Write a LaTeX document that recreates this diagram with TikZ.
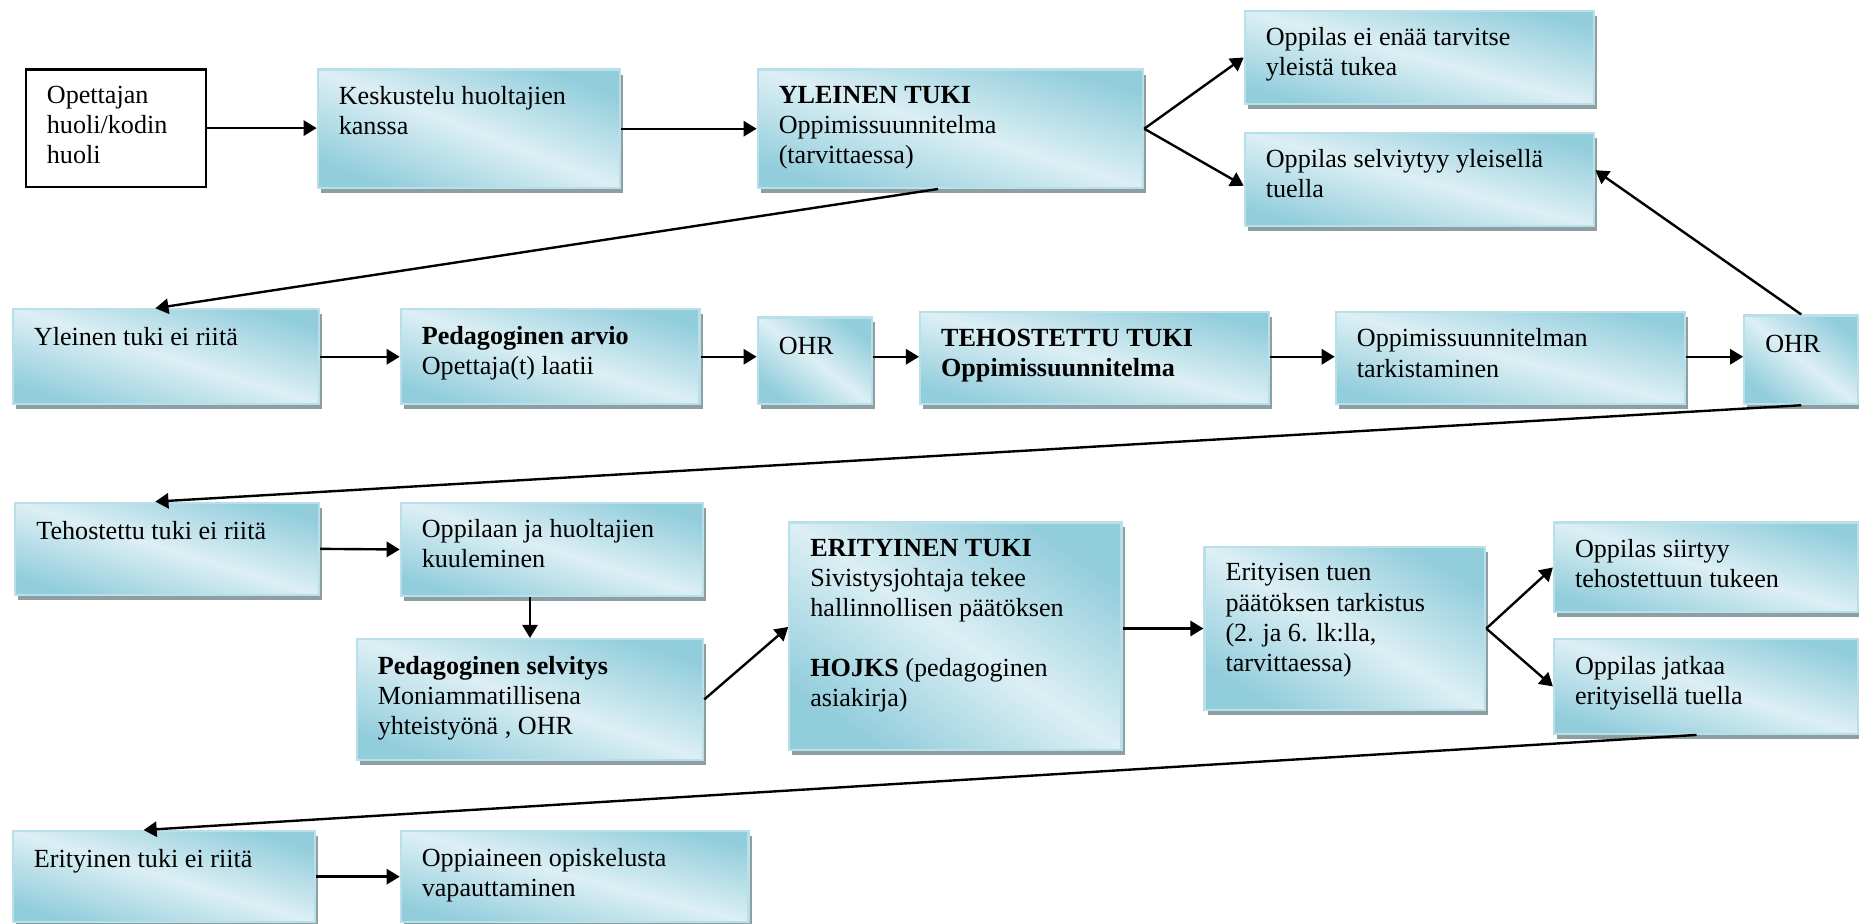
\documentclass[tikz,border=0pt]{standalone}
\usepackage{fontspec}
\setmainfont{Liberation Serif}
\usetikzlibrary{arrows.meta}
\usetikzlibrary{shadows}

\definecolor{teallight}{HTML}{DCEFF4}
\definecolor{tealdark}{HTML}{92CDDC}
\definecolor{boxedge}{HTML}{B9DFE9}
\definecolor{shadowgray}{HTML}{8E9FA4}

\tikzset{
	% size of the box; the angle of its shading follows the diagonal of the box
	laatikko/.style 2 args={rectangle, anchor=north west, minimum width=#1cm, minimum height=#2cm, inner sep=0pt,
		/utils/exec={\pgfmathsetmacro\kulma{-atan(#2/#1)}}},
	sininen/.style={draw=boxedge, line width=1pt, top color=tealdark, bottom color=tealdark, middle color=teallight, shading angle=\kulma,
		drop shadow={shadow xshift=0.05cm, shadow yshift=-0.08cm, fill=shadowgray, opacity=1}},
	valkoinen/.style={draw=black, line width=1pt, fill=white},
	% first line gets a fixed height, so every first baseline sits at the same depth
	teksti/.style={anchor=north west, inner sep=0pt, xshift=0.35cm, yshift=-8.1pt, align=left,
		font=\fontsize{12}{13.8}\selectfont, execute at begin node={\rule{0pt}{9pt}}},
	nuoli/.style={-{Triangle[length=6pt,width=7pt]}, line width=1.1pt},
}

\begin{document}
\begin{tikzpicture}
	% Fix the page size
	\useasboundingbox (0,0) rectangle (30,14.905);

	% First row: general support
	\node[laatikko={2.91}{1.89}, valkoinen] (huoli) at (0.40,13.80) {};
	\node[laatikko={4.88}{1.91}, sininen] (keskustelu) at (5.11,13.80) {};
	\node[laatikko={6.22}{1.91}, sininen] (yleinen) at (12.21,13.80) {};
	\node[laatikko={5.64}{1.51}, sininen] (eitarvitse) at (20.07,14.75) {};
	\node[laatikko={5.64}{1.51}, sininen] (selviytyy) at (20.07,12.78) {};

	% Second row: intensified support
	\node[laatikko={4.94}{1.53}, sininen] (yleinenei) at (0.19,9.93) {};
	\node[laatikko={4.82}{1.53}, sininen] (arvio) at (6.45,9.93) {};
	\node[laatikko={1.84}{1.40}, sininen] (ohra) at (12.21,9.80) {};
	\node[laatikko={5.63}{1.49}, sininen] (tehostettu) at (14.83,9.89) {};
	\node[laatikko={5.63}{1.49}, sininen] (tarkistaminen) at (21.54,9.89) {};
	\node[laatikko={1.84}{1.43}, sininen] (ohrb) at (28.13,9.83) {};

	% Third row: special support
	\node[laatikko={4.90}{1.49}, sininen] (tehostettuei) at (0.23,6.81) {};
	\node[laatikko={4.88}{1.51}, sininen] (kuuleminen) at (6.45,6.81) {};
	\node[laatikko={5.59}{1.95}, sininen] (selvitys) at (5.74,4.61) {};
	\node[laatikko={5.36}{3.67}, sininen] (erityinen) at (12.72,6.49) {};
	\node[laatikko={4.53}{2.64}, sininen] (paatos) at (19.42,6.10) {};
	\node[laatikko={4.90}{1.45}, sininen] (siirtyy) at (25.06,6.49) {};
	\node[laatikko={4.90}{1.53}, sininen] (jatkaa) at (25.06,4.61) {};

	% Fourth row
	\node[laatikko={4.88}{1.47}, sininen] (erityinenei) at (0.19,1.51) {};
	\node[laatikko={5.61}{1.47}, sininen] (vapautus) at (6.45,1.51) {};

	% Texts in the top left corner of each box
	\node[teksti] (huoli-t) at (huoli.north west) {Opettajan\\huoli/kodin\\huoli};
	\node[teksti] (keskustelu-t) at (keskustelu.north west) {Keskustelu huoltajien\\kanssa};
	\node[teksti] (yleinen-t) at (yleinen.north west) {\textbf{YLEINEN TUKI}\\Oppimissuunnitelma\\(tarvittaessa)};
	\node[teksti] (eitarvitse-t) at (eitarvitse.north west) {Oppilas ei enää tarvitse\\yleistä tukea};
	\node[teksti] (selviytyy-t) at (selviytyy.north west) {Oppilas selviytyy yleisellä\\tuella};
	\node[teksti] (yleinenei-t) at (yleinenei.north west) {Yleinen tuki ei riitä};
	\node[teksti] (arvio-t) at (arvio.north west) {\textbf{Pedagoginen arvio}\\Opettaja(t) laatii};
	\node[teksti] (ohra-t) at (ohra.north west) {OHR};
	\node[teksti] (tehostettu-t) at (tehostettu.north west) {\textbf{TEHOSTETTU TUKI}\\\textbf{Oppimissuunnitelma}};
	\node[teksti] (tarkistaminen-t) at (tarkistaminen.north west) {Oppimissuunnitelman\\tarkistaminen};
	\node[teksti] (ohrb-t) at (ohrb.north west) {OHR};
	\node[teksti] (tehostettuei-t) at (tehostettuei.north west) {Tehostettu tuki ei riitä};
	\node[teksti] (kuuleminen-t) at (kuuleminen.north west) {Oppilaan ja huoltajien\\kuuleminen};
	\node[teksti] (selvitys-t) at (selvitys.north west) {\textbf{Pedagoginen selvitys}\\Moniammatillisena\\yhteistyönä , OHR};
	\node[teksti] (erityinen-t) at (erityinen.north west) {\textbf{ERITYINEN TUKI}\\Sivistysjohtaja tekee\\hallinnollisen päätöksen\\[13.8pt]\textbf{HOJKS} (pedagoginen\\asiakirja)};
	\node[teksti] (paatos-t) at (paatos.north west) {Erityisen tuen\\päätöksen tarkistus\\(2. ja 6. lk:lla,\\tarvittaessa)};
	\node[teksti] (siirtyy-t) at (siirtyy.north west) {Oppilas siirtyy\\tehostettuun tukeen};
	\node[teksti] (jatkaa-t) at (jatkaa.north west) {Oppilas jatkaa\\erityisellä tuella};
	\node[teksti] (erityinenei-t) at (erityinenei.north west) {Erityinen tuki ei riitä};
	\node[teksti] (vapautus-t) at (vapautus.north west) {Oppiaineen opiskelusta\\vapauttaminen};

	% Arrows of the first row
	\draw[nuoli] (huoli.east) -- (huoli.east -| keskustelu.west);
	\draw[nuoli] (keskustelu.east) -- (keskustelu.east -| yleinen.west);
	\draw[nuoli] (yleinen.east) -- (eitarvitse.west);
	\draw[nuoli] (yleinen.east) -- ([yshift=-0.1cm]selviytyy.west);
	\draw[nuoli] ([xshift=-0.2cm]yleinen.south) -- ([xshift=-0.17cm]yleinenei.north);

	% Arrows of the second row
	\draw[nuoli] (yleinenei.east |- arvio.east) -- (arvio.east -| arvio.west);
	\draw[nuoli] (arvio.east) -- (arvio.east -| ohra.west);
	\draw[nuoli] (ohra.east |- arvio.east) -- (tehostettu.west |- arvio.east);
	\draw[nuoli] (tehostettu.east |- arvio.east) -- (tarkistaminen.west |- arvio.east);
	\draw[nuoli] (tarkistaminen.east |- arvio.east) -- (ohrb.west |- arvio.east);
	\draw[nuoli] (ohrb.north) -- ([yshift=0.15cm]selviytyy.east);
	\draw[nuoli] (ohrb.south) -- ([xshift=-0.19cm]tehostettuei.north);

	% Arrows of the third row
	\draw[nuoli] (tehostettuei.east) -- (kuuleminen.west);
	\draw[nuoli] (kuuleminen.south -| selvitys.north) -- (selvitys.north);
	\draw[nuoli] (selvitys.east) -- ([yshift=0.15cm]erityinen.west);
	\draw[nuoli] (paatos.west -| erityinen.east) -- (paatos.west);
	\draw[nuoli] (paatos.east) -- (siirtyy.west);
	\draw[nuoli] (paatos.east) -- (jatkaa.west);
	\draw[nuoli] ([xshift=-0.15cm]jatkaa.south) -- ([xshift=-0.33cm]erityinenei.north);

	% Arrow of the last row
	\draw[nuoli] (erityinenei.east) -- (vapautus.west);
\end{tikzpicture}
\end{document}
